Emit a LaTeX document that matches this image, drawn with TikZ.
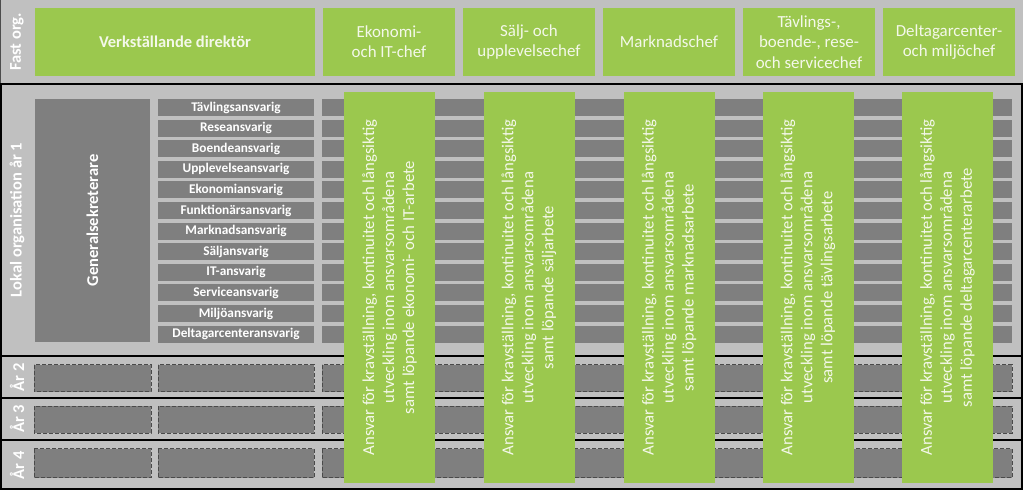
\documentclass[tikz,border=0pt]{standalone}
\usepackage{fontspec}
\setmainfont{Carlito}
\definecolor{bg}{HTML}{C0C0C0}
\definecolor{dk}{HTML}{7F7F7F}
\definecolor{grn}{HTML}{9BC84E}
\definecolor{gtxt}{HTML}{F4F8EA}
\definecolor{dashc}{HTML}{4A4A4A}
\begin{document}
\begin{tikzpicture}[x=1pt,y=-1pt,
  every node/.style={inner sep=0pt,outer sep=0pt},
  gbox/.style={fill=grn,text=gtxt,align=center,font=\fontsize{16.9}{20.3}\selectfont},
  dbox/.style={fill=dk,text=white,font=\bfseries\fontsize{13.3}{16}\selectfont},
  dashbox/.style={fill=dk,draw=dashc,line width=1pt,dash pattern=on 4pt off 2pt},
  seclbl/.style={rotate=90,text=white,font=\bfseries\fontsize{16.5}{20}\selectfont},
  colbox/.style={fill=grn,text=gtxt,rotate=90,align=center,minimum width=391pt,minimum height=91pt,font=\fontsize{16.7}{20}\selectfont},
  sepline/.style={draw=black,line width=2pt}]
\useasboundingbox (0,0) rectangle (1023,490);
\fill[bg] (0,0) rectangle (1023,490);

% section separators
\draw[draw=black!70,line width=1pt] (0.5,0) -- (0.5,83.5);
\draw[sepline] (0,83.5) -- (1023,83.5);
\draw[sepline] (0,356) -- (1023,356);
\draw[sepline] (0,397.5) -- (1023,397.5);
\draw[sepline] (0,440) -- (1023,440);
\draw[sepline] (0,489) -- (1023,489);
\draw[sepline] (1,83.5) -- (1,489);
\draw[sepline] (1021.5,83.5) -- (1021.5,489);

% section labels
\node[seclbl] (lfast) at (17,42) {Fast org.};
\node[seclbl] (llokal) at (17,220) {Lokal organisation år 1};
\node[seclbl] (lar2) at (17,377.5) {År 2};
\node[seclbl] (lar3) at (17,419) {År 3};
\node[seclbl] (lar4) at (17,465.5) {År 4};

% top boxes
\node[gbox,minimum width=280pt,minimum height=68pt,font=\bfseries\fontsize{16.5}{20}\selectfont] (vd) at (175,42) {Verkställande direktör};
\node[gbox,minimum width=132pt,minimum height=68pt] (ek) at (389,42) {Ekonomi-\\och IT-chef};
\node[gbox,minimum width=132pt,minimum height=68pt] (sa) at (529,42) {Sälj- och\\upplevelsechef};
\node[gbox,minimum width=132pt,minimum height=68pt] (ma) at (669,42) {Marknadschef};
\node[gbox,minimum width=132pt,minimum height=68pt] (tv) at (809,42) {Tävlings-,\\boende-, rese-\\och servicechef};
\node[gbox,minimum width=132pt,minimum height=68pt] (de) at (949,42) {Deltagarcenter-\\och miljöchef};

% Generalsekreterare
\node[dbox,minimum width=115pt,minimum height=243pt] (gs) at (92.5,220.5) {};
\node[seclbl] (gstxt) at (gs.center) {Generalsekreterare};

% role rows
\foreach \r [count=\i from 0] in {Tävlingsansvarig,Reseansvarig,Boendeansvarig,Upplevelseansvarig,Ekonomiansvarig,Funktionärsansvarig,Marknadsansvarig,Säljansvarig,IT-ansvarig,Serviceansvarig,Miljöansvarig,Deltagarcenteransvarig}{
  \pgfmathsetmacro{\yc}{99+20.6*\i+8.5}
  \node[dbox,minimum width=156pt,minimum height=17pt] (role\i) at (236,\yc) {\r};
  \node[dbox,minimum width=690pt,minimum height=17pt] (bar\i) at (667,\yc) {};
}

% year rows (dashed placeholders)
\foreach \yt/\yb/\n in {364.5/391.5/2,406/433/3,448.5/477.5/4}{
  \draw[dashbox] (34,\yt) rectangle (151,\yb);
  \draw[dashbox] (158,\yt) rectangle (314,\yb);
  \draw[dashbox] (322,\yt) rectangle (1012,\yb);
}

% green responsibility columns
\node[colbox] (c1) at (389.5,287.5) {Ansvar för kravställning, kontinuitet och långsiktig\\utveckling inom ansvarsområdena\\samt löpande ekonomi- och IT-arbete};
\node[colbox] (c2) at (529,287.5) {Ansvar för kravställning, kontinuitet och långsiktig\\utveckling inom ansvarsområdena\\samt löpande säljarbete};
\node[colbox] (c3) at (669,287.5) {Ansvar för kravställning, kontinuitet och långsiktig\\utveckling inom ansvarsområdena\\samt löpande marknadsarbete};
\node[colbox] (c4) at (808,287.5) {Ansvar för kravställning, kontinuitet och långsiktig\\utveckling inom ansvarsområdena\\samt löpande tävlingsarbete};
\node[colbox] (c5) at (947.5,287.5) {Ansvar för kravställning, kontinuitet och långsiktig\\utveckling inom ansvarsområdena\\samt löpande deltagarcenterarbete};
\end{tikzpicture}
\end{document}
